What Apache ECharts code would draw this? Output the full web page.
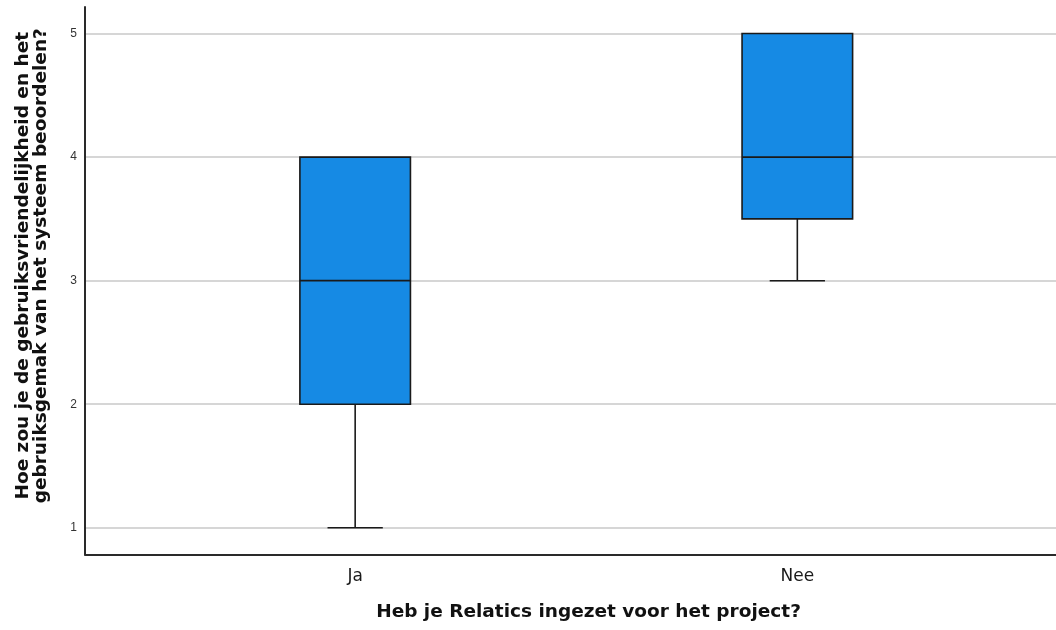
<!DOCTYPE html>
<html>
<head>
<meta charset="utf-8">
<script src="https://cdn.jsdelivr.net/npm/echarts@6/dist/echarts.min.js"></script>
<style>
  html, body { margin: 0; padding: 0; background: #ffffff; }
  #chart { width: 1056px; height: 630px; }
</style>
</head>
<body>
<div id="chart"></div>
<script>
// Groups and their five-number summaries (min, Q1, median, Q3, max)
const categories = ['Ja', 'Nee'];
const minValues = [1, 3];
const q1Values = [2, 3.5];
const medianValues = [3, 4];
const q3Values = [4, 5];
const maxValues = [4, 5];
const yTicks = [1, 2, 3, 4, 5];

const yTitle = 'Hoe zou je de gebruiksvriendelijkheid en het\ngebruiksgemak van het systeem beoordelen?';
const xTitle = 'Heb je Relatics ingezet voor het project?';

const rows = categories.map((c, i) => [i, minValues[i], q1Values[i], medianValues[i], q3Values[i], maxValues[i]]);

const WIDE = '"DejaVu Sans", Verdana, sans-serif';
const NARROW = '"Liberation Sans", Arial, Helvetica, sans-serif';
const BOX_FILL = '#168ae4';
const INK = '#1a1a1a';

function renderBox(params, api) {
  const x = api.value(0);
  const vMin = api.value(1), vQ1 = api.value(2), vMed = api.value(3), vQ3 = api.value(4), vMax = api.value(5);
  const band = api.size([1, 0])[0];
  const half = band * 0.125;      // box is a quarter of the group spacing
  const capHalf = half / 2;       // whisker caps are half the box width
  const pMin = api.coord([x, vMin]);
  const pQ1 = api.coord([x, vQ1]);
  const pMed = api.coord([x, vMed]);
  const pQ3 = api.coord([x, vQ3]);
  const pMax = api.coord([x, vMax]);
  const cx = pMed[0];
  const lineStyle = { stroke: INK, lineWidth: 1.6 };
  const children = [];
  if (vMin < vQ1) {
    children.push({ type: 'line', shape: { x1: cx, y1: pQ1[1], x2: cx, y2: pMin[1] }, style: lineStyle });
    children.push({ type: 'line', shape: { x1: cx - capHalf, y1: pMin[1], x2: cx + capHalf, y2: pMin[1] }, style: lineStyle });
  }
  if (vMax > vQ3) {
    children.push({ type: 'line', shape: { x1: cx, y1: pQ3[1], x2: cx, y2: pMax[1] }, style: lineStyle });
    children.push({ type: 'line', shape: { x1: cx - capHalf, y1: pMax[1], x2: cx + capHalf, y2: pMax[1] }, style: lineStyle });
  }
  children.push({
    type: 'rect',
    shape: { x: cx - half, y: pQ3[1], width: half * 2, height: pQ1[1] - pQ3[1] },
    style: { fill: BOX_FILL, stroke: INK, lineWidth: 1.6 }
  });
  children.push({ type: 'line', shape: { x1: cx - half, y1: pMed[1], x2: cx + half, y2: pMed[1] }, style: { stroke: INK, lineWidth: 1.8 } });
  return { type: 'group', children: children };
}

const chart = echarts.init(document.getElementById('chart'), null, { renderer: 'canvas' });
chart.setOption({
  animation: false,
  backgroundColor: '#ffffff',
  grid: { left: 85, right: 0, top: 7, bottom: 75.5, containLabel: false, outerBoundsMode: 'none' },
  xAxis: {
    type: 'value',
    min: -0.611,
    max: 1.585,
    name: xTitle,
    nameLocation: 'middle',
    nameGap: 48,
    nameTextStyle: { fontFamily: WIDE, fontWeight: 'bold', fontSize: 18.5, color: '#111', padding: [0, 0, 0, 36] },
    axisLine: { show: true, onZero: false, lineStyle: { color: '#2a2a2a', width: 2 } },
    axisTick: { show: false, customValues: [0, 1] },
    splitLine: { show: false },
    axisLabel: {
      customValues: [0, 1],
      formatter: v => categories[Math.round(v)],
      fontFamily: WIDE, fontSize: 17, color: '#1a1a1a', margin: 14
    }
  },
  yAxis: {
    type: 'value',
    min: 0.784,
    max: 5.215,
    name: yTitle,
    nameLocation: 'middle',
    nameGap: 35,
    nameTextStyle: { fontFamily: WIDE, fontWeight: 'bold', fontSize: 18.5, lineHeight: 18, color: '#111', padding: [0, 0, 0, 30] },
    axisLine: { show: true, onZero: false, lineStyle: { color: '#2a2a2a', width: 2 } },
    axisTick: { show: false, customValues: yTicks },
    splitLine: { show: true, lineStyle: { color: '#c8c8c8', width: 1.5 } },
    axisLabel: { customValues: yTicks, fontFamily: NARROW, fontSize: 12, color: '#333', margin: 8 }
  },
  series: [{
    type: 'custom',
    renderItem: renderBox,
    encode: { x: 0, y: [1, 2, 3, 4, 5] },
    data: rows,
    clip: false
  }]
});
</script>
</body>
</html>
